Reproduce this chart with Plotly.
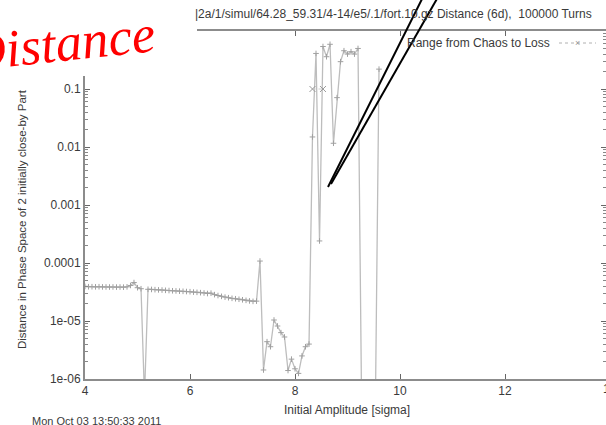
import plotly.graph_objects as go

# ---------------- data ----------------
amplitude = [
    4.000, 4.067, 4.133, 4.200, 4.267, 4.333, 4.400, 4.467, 4.533, 4.600,
    4.667, 4.733, 4.800, 4.867, 4.933, 5.000, 5.067, 5.133, 5.200, 5.267,
    5.333, 5.400, 5.467, 5.533, 5.600, 5.667, 5.733, 5.800, 5.867, 5.933,
    6.000, 6.067, 6.133, 6.200, 6.267, 6.333, 6.400, 6.467, 6.533, 6.600,
    6.667, 6.733, 6.800, 6.867, 6.933, 7.000, 7.067, 7.133, 7.200, 7.267,
    7.333, 7.400, 7.467, 7.533, 7.600, 7.667, 7.733, 7.800, 7.867, 7.933,
    8.000, 8.067, 8.133, 8.200, 8.267, 8.333, 8.400, 8.467, 8.533, 8.600,
    8.667, 8.733, 8.800, 8.867, 8.933, 9.000, 9.067, 9.133, 9.200, 9.267,
    9.333, 9.400, 9.467, 9.533, 9.600,
]
distance = [
    3.95e-5, 3.90e-5, 3.90e-5, 3.88e-5, 3.90e-5, 3.87e-5, 3.86e-5, 3.85e-5, 3.86e-5, 3.84e-5,
    3.85e-5, 3.83e-5, 3.88e-5, 4.10e-5, 4.60e-5, 3.75e-5, 3.60e-5, 5.0e-7, 3.52e-5, 3.50e-5,
    3.47e-5, 3.44e-5, 3.42e-5, 3.38e-5, 3.35e-5, 3.32e-5, 3.30e-5, 3.27e-5, 3.25e-5, 3.22e-5,
    3.20e-5, 3.15e-5, 3.12e-5, 3.08e-5, 3.04e-5, 2.98e-5, 3.02e-5, 2.85e-5, 2.75e-5, 2.66e-5,
    2.58e-5, 2.52e-5, 2.46e-5, 2.42e-5, 2.37e-5, 2.32e-5, 2.27e-5, 2.22e-5, 2.18e-5, 2.20e-5,
    1.08e-4, 1.43e-6, 4.4e-6, 3.6e-6, 1.04e-5, 8.2e-6, 6.3e-6, 5.3e-6, 1.4e-6, 2.2e-6,
    1.5e-6, 1.25e-6, 2.5e-6, 3.6e-6, 4.0e-6, 0.0149, 0.41, 2.4e-4, 0.54, 0.36,
    0.59, 0.0116, 0.071, 0.296, 0.457, 0.40, 0.44, 0.40, 0.50, 5.0e-7,
    5.0e-7, 5.0e-7, 5.0e-7, 5.0e-7, 0.22,
]
range_amp = [8.333, 8.533]
range_val = [0.1, 0.1]

xtick_vals = [4, 6, 8, 10, 12]
ytick_vals = [1e-6, 1e-5, 1e-4, 1e-3, 1e-2, 1e-1]
ytick_text = ["1e-06", "1e-05", "0.0001", "0.001", "0.01", "0.1"]
minor_vals = [m * 10.0 ** e for e in range(-6, 0) for m in range(2, 10)]

title_text = "|2a/1/simul/64.28_59.31/4-14/e5/.1/fort.10.gz Distance (6d), &nbsp;100000 Turns"
ylabel = "Distance in Phase Space of 2 initially close-by Part"
xlabel = "Initial Amplitude [sigma]"
date_text = "Mon Oct 03 13:50:33 2011"
legend_text = "Range from Chaos to Loss"
overlay_text = "Distance"

# ---------------- layout geometry (pixels) ----------------
W, H = 606, 425
L, R, T, B = 85, 606, 31, 379


def px(x):
    return (x - L) / (R - L)


def py(y):
    return (B - y) / (B - T)


SANS = "Liberation Sans"
TXT = "#3a3a3a"
AX = "#8c8c8c"

fig = go.Figure()
fig.add_trace(go.Scatter(
    x=amplitude, y=distance, mode="lines+markers",
    line=dict(color="#bdbdbd", width=1.3),
    marker=dict(symbol="cross-thin", size=4, line=dict(width=1, color="#a0a0a0")),
    showlegend=False, hoverinfo="skip",
))
fig.add_trace(go.Scatter(
    x=range_amp, y=range_val, mode="lines+markers", yaxis="y2",
    line=dict(color="#cfcfcf", width=1, dash="dot"),
    marker=dict(symbol="x-thin", size=6, line=dict(width=1, color="#9a9a9a")),
    showlegend=False, hoverinfo="skip",
))

shapes = [
    # white box of the overlaid label, hiding the frame's top-left corner
    dict(type="rect", xref="paper", yref="paper", x0=px(-5), x1=px(197),
         y0=py(76), y1=py(-5), fillcolor="white", line=dict(width=0), layer="above"),
    # black pointer lines
    dict(type="line", xref="paper", yref="paper", x0=px(423), y0=py(-3), x1=px(328), y1=py(187),
         line=dict(color="black", width=2), layer="above"),
    dict(type="line", xref="paper", yref="paper", x0=px(438), y0=py(-3), x1=px(331), y1=py(184),
         line=dict(color="black", width=2), layer="above"),
    # legend sample
    dict(type="line", xref="paper", yref="paper", x0=px(559), y0=py(43), x1=px(596), y1=py(43),
         line=dict(color="#b0b0b0", width=1, dash="dot"), layer="above"),
]

annotations = [
    dict(text=title_text, xref="paper", yref="paper", x=px(193), y=py(14),
         xanchor="left", yanchor="middle", showarrow=False,
         font=dict(family=SANS, size=12, color=TXT)),
    dict(text=legend_text, xref="paper", yref="paper", x=px(552), y=py(43),
         xanchor="right", yanchor="middle", showarrow=False,
         font=dict(family=SANS, size=12, color=TXT)),
    dict(text="×", xref="paper", yref="paper", x=px(577), y=py(43),
         xanchor="center", yanchor="middle", showarrow=False,
         font=dict(family=SANS, size=9, color="#999999")),
    dict(text=ylabel, xref="paper", yref="paper", x=px(22), y=py(219),
         xanchor="center", yanchor="middle", textangle=-90, showarrow=False,
         font=dict(family=SANS, size=11.5, color=TXT)),
    dict(text=xlabel, xref="paper", yref="paper", x=px(347), y=py(410),
         xanchor="center", yanchor="middle", showarrow=False,
         font=dict(family=SANS, size=12, color=TXT)),
    dict(text=date_text, xref="paper", yref="paper", x=px(30), y=py(421),
         xanchor="left", yanchor="middle", showarrow=False,
         font=dict(family=SANS, size=11, color=TXT)),
    dict(text="14", xref="paper", yref="paper", x=px(610), y=py(389),
         xanchor="center", yanchor="middle", showarrow=False,
         font=dict(family=SANS, size=12, color=TXT)),
    dict(text=overlay_text, xref="paper", yref="paper", x=px(160), y=py(43),
         xanchor="right", yanchor="middle", textangle=-6, showarrow=False,
         font=dict(family="Liberation Serif", size=53, color="#ff0000", style="italic")),
]

fig.update_layout(
    width=W, height=H,
    margin=dict(l=L, r=W - R, t=T, b=H - B, pad=0),
    paper_bgcolor="white", plot_bgcolor="white",
    showlegend=False,
    xaxis=dict(
        range=[4, 4 + (R - L) / 52.5], tickmode="array", tickvals=xtick_vals,
        showline=True, linecolor=AX, linewidth=2, mirror="ticks",
        ticks="inside", ticklen=5, tickwidth=1, tickcolor="#666666",
        showgrid=False, zeroline=False,
        tickfont=dict(family=SANS, size=12, color=TXT),
    ),
    yaxis=dict(
        type="log", range=[-6, 0], tickmode="array", tickvals=ytick_vals, ticktext=ytick_text,
        showline=True, linecolor=AX, linewidth=2,
        ticks="inside", ticklen=5, tickwidth=1, tickcolor="#666666",
        minor=dict(tickmode="array", tickvals=minor_vals, ticks="inside", ticklen=3,
                   tickcolor="#888888", tickwidth=1),
        showgrid=False, zeroline=False,
        tickfont=dict(family=SANS, size=12, color=TXT),
    ),
    yaxis2=dict(
        type="log", range=[-6, 0], overlaying="y", side="right", anchor="x",
        tickmode="array", tickvals=ytick_vals, showticklabels=False,
        showline=False, ticks="inside", ticklen=5, tickwidth=1, tickcolor="#666666",
        minor=dict(tickmode="array", tickvals=minor_vals, ticks="inside", ticklen=3,
                   tickcolor="#888888", tickwidth=1),
        showgrid=False, zeroline=False,
    ),
    shapes=shapes,
    annotations=annotations,
)

fig.write_html(
    "out.html",
    config={"displayModeBar": False},
    post_script="document.body.style.margin='0';document.body.style.overflow='hidden';",
)
